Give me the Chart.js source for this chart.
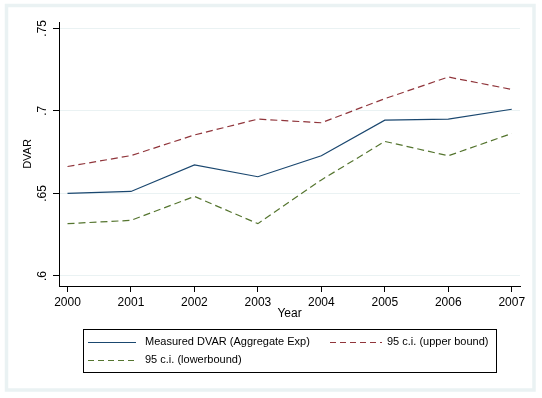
<!DOCTYPE html>
<html>
<head>
<meta charset="utf-8">
<script src="https://cdn.jsdelivr.net/npm/chart.js@4/dist/chart.umd.min.js"></script>
<style>
  html, body { margin: 0; padding: 0; background: #fff; }
  canvas { display: block; }
</style>
</head>
<body>
<canvas id="dvarChart" width="542" height="398"></canvas>
<script>
const years = [2000, 2001, 2002, 2003, 2004, 2005, 2006, 2007];
const measured = [0.650, 0.6512, 0.6673, 0.6601, 0.6728, 0.6944, 0.6950, 0.7010];
const upperBound = [0.6663, 0.6729, 0.6854, 0.6950, 0.6928, 0.7074, 0.7205, 0.7130];
const lowerBound = [0.6317, 0.6337, 0.6482, 0.6317, 0.6582, 0.6815, 0.6728, 0.6863];
const yTicks = [0.6, 0.65, 0.7, 0.75];
const yTickLabels = ['.6', '.65', '.7', '.75'];
const seriesLabels = ['Measured DVAR (Aggregate Exp)', '95 c.i. (upper bound)', '95 c.i. (lowerbound)'];

const FONT = 'Arial, "Liberation Sans", sans-serif';
const GRID = '#eaf2f3';

const toPoints = vals => vals.map((v, i) => ({ x: years[i], y: v }));

// light frame round the graph region
const framePlugin = {
  id: 'frame',
  beforeDraw(chart) {
    const ctx = chart.ctx;
    ctx.save();
    ctx.fillStyle = '#fff';
    ctx.fillRect(0, 0, chart.width, chart.height);
    ctx.strokeStyle = GRID;
    ctx.lineWidth = 3.5;
    ctx.strokeRect(6.5, 5.5, 527.5, 384.5);
    ctx.restore();
  }
};

// Stata style boxed legend, two columns
const legendPlugin = {
  id: 'boxLegend',
  afterDraw(chart) {
    const ctx = chart.ctx;
    const slots = [
      { x0: 88, x1: 136, tx: 145, y: 342 },
      { x0: 330, x1: 382, tx: 387, y: 342 },
      { x0: 88, x1: 136, tx: 145, y: 360 }
    ];
    ctx.save();
    ctx.strokeStyle = '#000';
    ctx.lineWidth = 1;
    ctx.strokeRect(83.5, 329.5, 413, 43);
    chart.data.datasets.forEach((ds, i) => {
      const s = slots[i];
      ctx.beginPath();
      ctx.strokeStyle = ds.borderColor;
      ctx.lineWidth = 1;
      ctx.setLineDash(ds.borderDash && ds.borderDash.length ? [6, 4] : []);
      ctx.moveTo(s.x0, s.y + 0.5);
      ctx.lineTo(s.x1, s.y + 0.5);
      ctx.stroke();
      ctx.setLineDash([]);
      ctx.fillStyle = '#000';
      ctx.font = '11px ' + FONT;
      ctx.textBaseline = 'middle';
      ctx.textAlign = 'left';
      ctx.fillText(ds.label, s.tx, s.y);
    });
    ctx.restore();
  }
};

new Chart(document.getElementById('dvarChart'), {
  type: 'line',
  data: {
    datasets: [
      {
        label: seriesLabels[0],
        data: toPoints(measured),
        borderColor: '#1a476f',
        borderWidth: 1.2,
        pointRadius: 0,
        fill: false
      },
      {
        label: seriesLabels[1],
        data: toPoints(upperBound),
        borderColor: '#90353b',
        borderWidth: 1.2,
        borderDash: [7, 4],
        pointRadius: 0,
        fill: false
      },
      {
        label: seriesLabels[2],
        data: toPoints(lowerBound),
        borderColor: '#55752f',
        borderWidth: 1.2,
        borderDash: [7, 4],
        pointRadius: 0,
        fill: false
      }
    ]
  },
  options: {
    responsive: false,
    animation: false,
    devicePixelRatio: 1,
    layout: { padding: { left: 0, right: 22, top: 22, bottom: 72 } },
    plugins: {
      legend: { display: false },
      tooltip: { enabled: false }
    },
    scales: {
      x: {
        type: 'linear',
        min: 1999.866,
        max: 2007.13,
        afterBuildTicks: s => { s.ticks = years.map(v => ({ value: v })); },
        afterFit: s => { s.height = 40; },
        grid: {
          drawOnChartArea: false,
          drawTicks: true,
          tickLength: 6,
          tickColor: '#000'
        },
        border: { display: true, color: '#000', width: 1 },
        ticks: {
          color: '#000',
          font: { family: FONT, size: 12 },
          padding: 3,
          maxRotation: 0,
          callback: v => String(v)
        },
        title: {
          display: true,
          text: 'Year',
          color: '#000',
          font: { family: FONT, size: 12 },
          padding: { top: 0, bottom: 5 }
        }
      },
      y: {
        type: 'linear',
        min: 0.59394,
        max: 0.75382,
        afterBuildTicks: s => { s.ticks = yTicks.map(v => ({ value: v })); },
        afterFit: s => { s.width = 59; },
        grid: {
          color: GRID,
          lineWidth: 1,
          drawTicks: true,
          tickLength: 6,
          tickColor: '#000'
        },
        border: { display: true, color: '#000', width: 1 },
        ticks: {
          color: '#000',
          font: { family: FONT, size: 12 },
          padding: 2,
          minRotation: 90,
          maxRotation: 90,
          crossAlign: 'center',
          callback: v => yTickLabels[yTicks.indexOf(v)]
        },
        title: {
          display: true,
          text: 'DVAR',
          color: '#000',
          font: { family: FONT, size: 11 },
          padding: { top: 21, bottom: 0 }
        }
      }
    }
  },
  plugins: [framePlugin, legendPlugin]
});
</script>
</body>
</html>
